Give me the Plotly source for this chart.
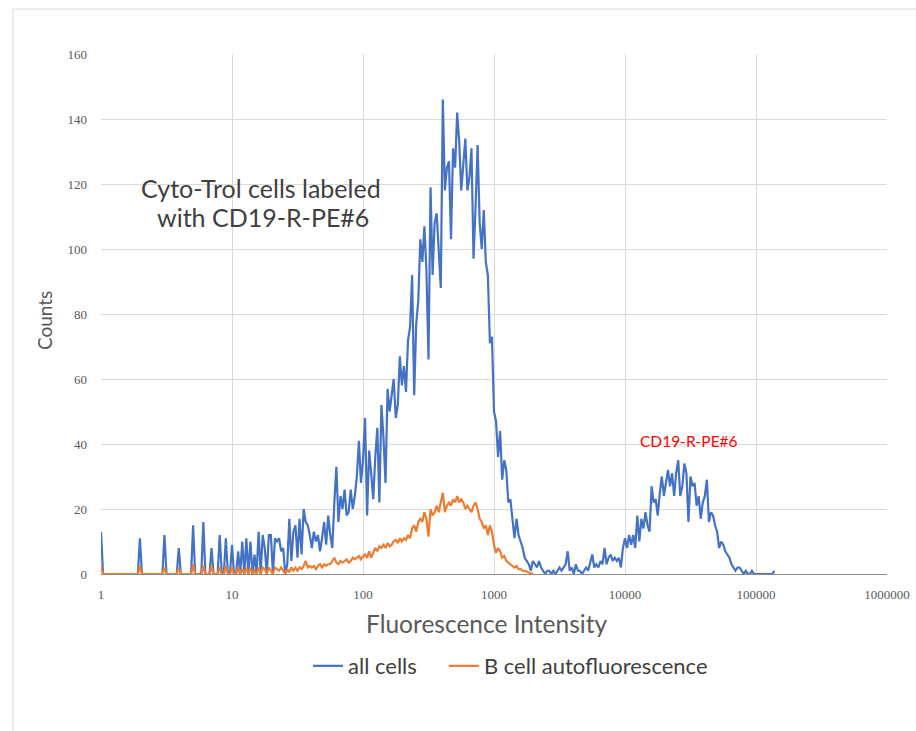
import numpy as np
import plotly.graph_objects as go

# Histogram counts per log channel (64 channels per decade, channel 0 = intensity 1)
CHANNELS_PER_DECADE = 64

all_cells = [
    13, 0, 0, 0, 0, 0, 0, 0, 0, 0, 0, 0, 0, 0, 0, 0,
    0, 0, 0, 11, 0, 0, 0, 0, 0, 0, 0, 0, 0, 0, 0, 12,
    0, 0, 0, 0, 0, 0, 8, 0, 0, 0, 0, 0, 0, 15, 0, 0,
    0, 0, 16, 0, 0, 0, 8, 0, 0, 0, 12, 0, 0, 11, 0, 0,
    9, 0, 0, 7, 0, 10, 0, 11, 0, 10, 0, 6, 0, 13, 0, 12,
    8, 0, 12, 12, 0, 11, 10, 11, 7, 8, 0, 3, 17, 4, 13, 15,
    5, 17, 6, 20, 16, 15, 12, 8, 13, 10, 12, 7, 11, 16, 9, 18,
    12, 8, 22, 33, 16, 24, 20, 26, 18, 19, 26, 20, 24, 30, 41, 28,
    35, 48, 18, 38, 31, 23, 36, 45, 22, 52, 42, 28, 57, 50, 55, 60,
    48, 52, 67, 58, 64, 56, 72, 76, 92, 55, 77, 84, 103, 96, 107, 93,
    66, 119, 92, 108, 111, 100, 88, 146, 118, 125, 127, 103, 131, 125, 142, 133,
    118, 126, 134, 118, 122, 131, 97, 113, 132, 108, 100, 112, 96, 92, 71, 73,
    50, 47, 36, 44, 29, 35, 32, 22, 23, 17, 11, 17, 12, 10, 8, 5,
    4, 3, 1, 4, 3, 2, 4, 2, 1, 0, 1, 1, 0, 1, 0, 1,
    2, 1, 2, 3, 7, 1, 2, 0, 3, 1, 1, 0, 1, 2, 1, 4,
    6, 2, 3, 2, 4, 3, 8, 3, 5, 6, 4, 5, 4, 5, 2, 8,
    11, 8, 12, 9, 12, 8, 18, 10, 17, 14, 19, 15, 13, 27, 22, 23,
    18, 25, 30, 24, 28, 32, 27, 31, 24, 31, 35, 24, 27, 34, 31, 16,
    30, 27, 28, 21, 24, 17, 22, 24, 29, 16, 19, 18, 15, 13, 8, 10,
    9, 7, 6, 5, 3, 2, 1, 2, 2, 1, 0, 1, 0, 0, 1, 0,
    0, 0, 0, 0, 0, 0, 0, 0, 0, 1,
]

b_cell_auto = [
    2.5, 0, 0, 0, 0, 0, 0, 0, 0, 0, 0, 0, 0, 0, 0, 0,
    0, 0, 0, 2.5, 0, 0, 0, 0, 0, 0, 0, 0, 0, 0, 0, 2,
    0, 0, 0, 0, 0, 0, 2, 0, 0, 0, 0, 0, 0, 3, 0, 0,
    0, 0, 2.5, 0, 0, 0, 2.5, 0, 0, 0, 2, 0, 0, 2.5, 0, 0,
    2, 0, 0, 2, 0, 1.5, 0, 2, 0, 2, 0, 1, 0, 2, 0, 2,
    1.5, 0, 2, 1, 0, 2, 1.5, 1, 2, 1, 0, 1.5, 0.5, 2, 1, 2,
    1, 2, 1.5, 2.5, 4, 2, 2.5, 2, 2.5, 1.5, 2.5, 3, 2, 3, 2.5, 3,
    3, 4, 5, 3.5, 3, 4, 3.5, 4, 4.5, 3.5, 4, 5, 4.5, 5, 5.5, 4.5,
    5.5, 6, 5, 7, 5, 6.5, 8, 7, 8.5, 8, 9, 8, 9.5, 8.5, 9, 10,
    10.5, 9.5, 11, 10, 11, 10.5, 12, 11, 14, 15, 13, 16, 17, 16, 19, 17,
    11.5, 20, 18, 19, 21, 19, 22, 25, 19, 21, 22, 21, 23, 22, 24, 22,
    23, 22, 20, 21, 20, 19, 21, 22, 20, 17, 16, 14, 15, 12, 15, 13,
    9, 6.5, 8, 7, 5, 5.5, 4, 3.5, 3, 2.5, 2, 2.5, 1.5, 1.5, 1, 1,
    0.8, 0.5, 0.3, 0,
]

decade_ticks = [1, 10, 100, 1000, 10000, 100000, 1000000]
decade_labels = ["1", "10", "100", "1000", "10000", "100000", "1000000"]
minor_ticks = [m * d for d in decade_ticks[:-1] for m in range(1, 10)] + [1000000]

y_ticks = [0, 20, 40, 60, 80, 100, 120, 140, 160]


def intensity(counts):
    channel = np.arange(len(counts))
    return 10 ** (channel / CHANNELS_PER_DECADE)


BLUE = "#4472C4"
ORANGE = "#ED7D31"
GRID = "#d9d9d9"
TEXT_FONT = "Lato"
TICK_FONT = dict(family="Liberation Serif", size=13, color="#595959")
LEGEND_FONT = dict(family=TEXT_FONT, size=22, color="#404040")

fig = go.Figure()
fig.add_trace(go.Scatter(
    x=intensity(all_cells), y=all_cells, mode="lines", name="all cells",
    line=dict(color=BLUE, width=2.2), legend="legend", showlegend=True,
))
fig.add_trace(go.Scatter(
    x=intensity(b_cell_auto), y=b_cell_auto, mode="lines",
    name="B cell autofluorescence",
    line=dict(color=ORANGE, width=2.2), legend="legend2", showlegend=True,
))

fig.update_layout(
    width=916, height=731,
    showlegend=True,
    margin=dict(l=101, r=29, t=54, b=157),
    paper_bgcolor="white", plot_bgcolor="white",
    font=dict(family=TEXT_FONT, color="#404040"),
    xaxis=dict(
        type="log", range=[0, 6], automargin=False,
        tickvals=decade_ticks, ticktext=decade_labels,
        tickfont=TICK_FONT, ticks="", ticklabelstandoff=8,
        showgrid=True, gridcolor=GRID, gridwidth=1,
        showline=True, linecolor="#8c8c8c", linewidth=1,
        zeroline=False,
    ),
    xaxis2=dict(
        type="log", range=[0, 6], overlaying="x", anchor="y", side="bottom",
        automargin=False,
        tickvals=minor_ticks, showticklabels=False,
        ticks="inside", ticklen=4, tickcolor="#7f7f7f", tickwidth=1,
        showgrid=False, showline=False, zeroline=False,
    ),
    yaxis=dict(
        range=[0, 160], tickvals=y_ticks, automargin=False,
        tickfont=TICK_FONT, ticks="", ticklabelstandoff=13,
        showgrid=True, gridcolor=GRID, gridwidth=1,
        showline=False, zeroline=False,
    ),
    legend=dict(
        orientation="h", x=0.2634, xanchor="left", y=-0.177, yanchor="middle",
        font=LEGEND_FONT, itemwidth=30, visible=True,
    ),
    legend2=dict(
        orientation="h", x=0.4363, xanchor="left", y=-0.177, yanchor="middle",
        font=LEGEND_FONT, itemwidth=30, visible=True,
    ),
    shapes=[dict(
        type="rect", xref="paper", yref="paper",
        x0=-0.112, x1=1.05, y0=-0.32, y1=1.0865,
        line=dict(color="#d9d9d9", width=1), fillcolor="rgba(0,0,0,0)",
        layer="below",
    )],
    annotations=[
        dict(text="Cyto-Trol cells labeled",
             xref="paper", yref="paper", x=0.2036, y=0.7423,
             xanchor="center", yanchor="middle", showarrow=False,
             font=dict(family=TEXT_FONT, size=25, color="#404040")),
        dict(text="with CD19-R-PE#6",
             xref="paper", yref="paper", x=0.2061, y=0.6865,
             xanchor="center", yanchor="middle", showarrow=False,
             font=dict(family=TEXT_FONT, size=25, color="#404040")),
        dict(text="CD19-R-PE#6", xref="paper", yref="paper",
             x=0.748, y=0.256, xanchor="center", yanchor="middle",
             showarrow=False,
             font=dict(family=TEXT_FONT, size=15.5, color="#ff0000")),
        dict(text="Fluorescence Intensity", xref="paper", yref="paper",
             x=0.491, y=-0.095, xanchor="center", yanchor="middle",
             showarrow=False,
             font=dict(family=TEXT_FONT, size=24.5, color="#595959")),
        dict(text="Counts", xref="paper", yref="paper",
             x=-0.0725, y=0.4865, xanchor="center", yanchor="middle",
             showarrow=False, textangle=-90,
             font=dict(family=TEXT_FONT, size=19, color="#595959")),
    ],
)

fig.write_html("out.html")
